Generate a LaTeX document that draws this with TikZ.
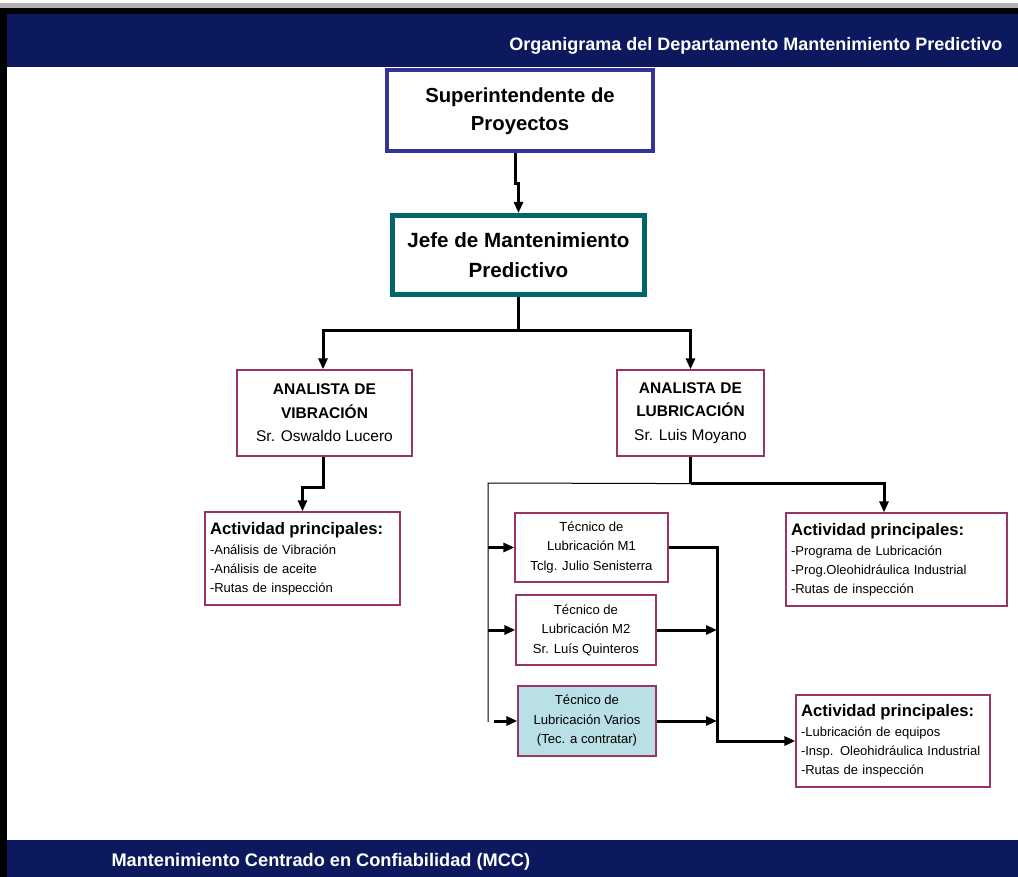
\documentclass[tikz,border=0pt]{standalone}
\usepackage{fontspec}
\setmainfont{Liberation Sans}
\usetikzlibrary{arrows.meta,positioning}

\definecolor{bandblue}{RGB}{12,25,94}
\definecolor{supblue}{RGB}{51,51,153}
\definecolor{jefeteal}{RGB}{0,102,102}
\definecolor{boxred}{RGB}{153,51,102}
\definecolor{varioscyan}{RGB}{185,224,228}

\tikzset{
  orgbox/.style={draw=boxred, line width=1.2pt, fill=white, align=center, inner sep=2pt},
  actbox/.style={orgbox, align=left, inner sep=5pt, font=\fontsize{13}{19}\selectfont},
  tecbox/.style={orgbox, font=\fontsize{13.1}{19.5}\selectfont},
  conn/.style={line width=3pt},
  arr/.style={line width=3pt, -{Triangle[length=11pt,width=9pt]}},
  bus/.style={line width=1pt}
}

\begin{document}
\begin{tikzpicture}[x=1pt,y=-1pt]
  \useasboundingbox (0,0) rectangle (1018,877);
  % marco y bandas
  \fill[gray!60] (0,3) rectangle (1018,8);
  \fill[black] (0,8) rectangle (1018,14);
  \fill[black] (0,8) rectangle (7,877);
  \fill[bandblue] (7,14) rectangle (1018,67);
  \fill[bandblue] (7,840) rectangle (1018,877);
  \node[anchor=east, text=white, font=\bfseries\fontsize{18}{22}\selectfont] (titulo) at (1006,46) {Organigrama del Departamento Mantenimiento Predictivo};
  \node[anchor=west, text=white, font=\bfseries\fontsize{18.2}{22}\selectfont] (pie) at (108,862) {Mantenimiento Centrado en Confiabilidad (MCC)};

  % jefaturas
  \node[draw=supblue, line width=4pt, fill=white, minimum width=266pt, minimum height=81pt, align=center,
        font=\bfseries\fontsize{20.3}{28}\selectfont] (sup) at (520,111) {Superintendente de\\Proyectos};
  \node[draw=jefeteal, line width=5pt, fill=white, minimum width=252pt, minimum height=79pt, align=center,
        font=\bfseries\fontsize{20.6}{30}\selectfont] (jefe) at (518.5,255) {Jefe de Mantenimiento\\Predictivo};

  % analistas
  \node[orgbox, minimum width=175pt, minimum height=86pt, font=\fontsize{15.5}{23.5}\selectfont] (anaV) at (324.5,413)
        {\textbf{ANALISTA DE}\\\textbf{VIBRACIÓN}\\Sr. Oswaldo Lucero};
  \node[orgbox, minimum width=147pt, minimum height=86pt, font=\fontsize{15.5}{23.5}\selectfont] (anaL) at (690.5,413)
        {\textbf{ANALISTA DE}\\\textbf{LUBRICACIÓN}\\Sr. Luis Moyano};

  % actividades
  \node[actbox, text width=185pt, minimum height=93pt] (actV) at (302.5,558.5)
        {{\bfseries\fontsize{16.7}{19}\selectfont Actividad principales:}\\[1pt]-Análisis de Vibración\\-Análisis de aceite\\-Rutas de inspección};
  \node[actbox, text width=211pt, minimum height=93pt] (actL) at (896.5,559.5)
        {{\bfseries\fontsize{16.7}{19}\selectfont Actividad principales:}\\[1pt]-Programa de Lubricación\\-Prog.Oleohidráulica Industrial\\-Rutas de inspección};
  \node[actbox, text width=184pt, minimum height=92pt] (actT) at (893,741)
        {{\bfseries\fontsize{16.7}{19}\selectfont Actividad principales:}\\[1pt]-Lubricación de equipos\\-Insp. Oleohidráulica Industrial\\-Rutas de inspección};

  % tecnicos
  \node[tecbox, minimum width=153pt, minimum height=69pt] (tec1) at (591.5,547.5) {Técnico de\\Lubricación M1\\Tclg. Julio Senisterra};
  \node[tecbox, minimum width=140pt, minimum height=70pt] (tec2) at (586,630) {Técnico de\\Lubricación M2\\Sr. Luís Quinteros};
  \node[tecbox, fill=varioscyan, minimum width=138pt, minimum height=70pt] (tec3) at (587,721) {Técnico de\\Lubricación Varios\\(Tec. a contratar)};

  % conexiones
  \draw[arr] ([xshift=-5pt]sup.south) -- ++(0,30) -| (jefe.north);
  \draw[conn] (jefe.south) -- ++(0,34) coordinate (ramal);
  \draw[arr] (ramal) -| ([xshift=-1.5pt]anaV.north);
  \draw[arr] (ramal) -| (anaL.north);
  \draw[arr] ([xshift=-1.5pt]anaV.south) -- ++(0,31) -| (actV.north);
  \draw[conn] (anaL.south) -- ++(0,27) coordinate (nudo);
  \draw[arr] (nudo) -| ([xshift=-12.5pt]actL.north);
  \draw[bus] (nudo) -- (488,483) coordinate (esq) -- (488,722) coordinate (pie bus);
  \draw[arr] (488,547.5) -- (tec1.west);
  \draw[arr] (488,630) -- (tec2.west);
  \draw[arr] (494,721) -- (tec3.west);
  \draw[arr] (tec1.east) -- (717,547.5) coordinate (baja) -- (717,741) -- (actT.west);
  \draw[arr] (tec2.east) -- (717,630);
  \draw[arr] (tec3.east) -- (717,721);
\end{tikzpicture}
\end{document}
